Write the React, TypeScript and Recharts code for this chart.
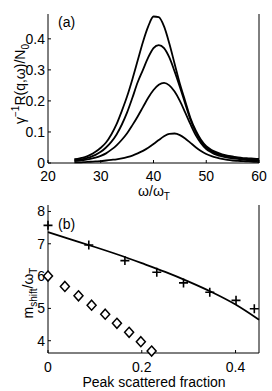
import React from 'react';
import { ComposedChart, LineChart, Line, Scatter, XAxis, YAxis } from 'recharts';

const omega = [25,26,27,28,29,30,31,32,33,34,35,36,37,38,39,40,41,42,43,44,45,46,47,48,49,50,51,52,53,54,55,56,57,58,59,60];
const curve1 = [0.012,0.015,0.019,0.026,0.036,0.049,0.066,0.092,0.125,0.168,0.215,0.27,0.33,0.39,0.44,0.472,0.47,0.44,0.385,0.32,0.255,0.2,0.145,0.105,0.075,0.054,0.042,0.034,0.028,0.024,0.021,0.018,0.016,0.015,0.014,0.013];
const curve2 = [0.009,0.011,0.014,0.019,0.026,0.036,0.05,0.068,0.092,0.124,0.163,0.21,0.26,0.3,0.34,0.37,0.38,0.37,0.34,0.295,0.245,0.192,0.14,0.1,0.07,0.05,0.038,0.03,0.025,0.021,0.018,0.015,0.013,0.012,0.011,0.01];
const curve3 = [0.006,0.008,0.01,0.013,0.017,0.023,0.031,0.043,0.057,0.075,0.096,0.122,0.15,0.18,0.21,0.235,0.252,0.258,0.25,0.23,0.2,0.163,0.125,0.09,0.064,0.045,0.034,0.026,0.021,0.017,0.015,0.013,0.011,0.009,0.008,0.007];
const curve4 = [0.002,0.002,0.003,0.004,0.005,0.006,0.008,0.01,0.012,0.015,0.019,0.024,0.031,0.039,0.049,0.061,0.074,0.086,0.094,0.095,0.09,0.079,0.065,0.051,0.039,0.029,0.022,0.017,0.013,0.01,0.008,0.007,0.006,0.005,0.004,0.003];

const topXTicks = [20, 30, 40, 50, 60];
const topYTicks = [0, 0.1, 0.2, 0.3, 0.4];

const plusX = [0.0, 0.087, 0.164, 0.232, 0.289, 0.345, 0.401, 0.44];
const plusY = [7.57, 6.96, 6.48, 6.12, 5.79, 5.5, 5.25, 4.99];
const diamondX = [0.0, 0.036, 0.065, 0.093, 0.122, 0.147, 0.173, 0.198, 0.221];
const diamondY = [6.0, 5.68, 5.39, 5.1, 4.82, 4.54, 4.26, 3.97, 3.68];
const fitX = [0, 0.05, 0.1, 0.15, 0.2, 0.25, 0.3, 0.35, 0.4, 0.45];
const fitY = [7.36, 7.13, 6.9, 6.66, 6.4, 6.13, 5.83, 5.5, 5.12, 4.65];

const botXTicks = [0, 0.2, 0.4];
const botYTicks = [4, 5, 6, 7, 8];

const topData = omega.map((w, i) => ({ x: w, c1: curve1[i], c2: curve2[i], c3: curve3[i], c4: curve4[i] }));
const plusData = plusX.map((x, i) => ({ x, y: plusY[i] }));
const diamondData = diamondX.map((x, i) => ({ x, y: diamondY[i] }));
const fitData = fitX.map((x, i) => ({ x, y: fitY[i] }));

const FONT = '"Liberation Sans", Arial, sans-serif';
const tickStyle = { fill: '#000', fontSize: 14, fontFamily: FONT };
const noTick = () => <g />;

const PlusShape = (p: any) => {
  const { cx, cy } = p;
  return <path d={`M${cx - 4.5},${cy}h9M${cx},${cy - 4.5}v9`} stroke="#000" strokeWidth={1.6} fill="none" />;
};
const DiamondShape = (p: any) => {
  const { cx, cy } = p;
  return <path d={`M${cx},${cy - 5}L${cx + 4.5},${cy}L${cx},${cy + 5}L${cx - 4.5},${cy}Z`} stroke="#000" strokeWidth={1.5} fill="#fff" />;
};

export default function App() {
  const lineProps = { type: 'monotone' as const, stroke: '#000', strokeWidth: 1.8, dot: false, isAnimationActive: false };
  return (
    <div style={{ position: 'absolute', left: 0, top: 0, width: 272, height: 391, background: '#fff' }}>
      <div style={{ position: 'absolute', left: 0, top: 0 }}>
        <LineChart width={272} height={200} data={topData} margin={{ top: 14, right: 0, bottom: 0, left: 0 }}>
          <XAxis dataKey="x" type="number" domain={[20, 60]} ticks={topXTicks} height={37} stroke="#000" tickSize={-3} tickMargin={11.5} tick={tickStyle} />
          <XAxis xAxisId="t" dataKey="x" type="number" orientation="top" domain={[20, 60]} ticks={topXTicks} height={0} stroke="#000" tickSize={-3} tick={noTick} />
          <YAxis type="number" domain={[0, 0.48]} ticks={topYTicks} width={48} stroke="#000" tickSize={-3} tickMargin={6} tick={tickStyle} />
          <YAxis yAxisId="r" type="number" orientation="right" domain={[0, 0.48]} ticks={topYTicks} width={13} stroke="#000" tickSize={-3} tick={noTick} />
          <Line dataKey="c1" {...lineProps} />
          <Line dataKey="c2" {...lineProps} />
          <Line dataKey="c3" {...lineProps} />
          <Line dataKey="c4" {...lineProps} />
        </LineChart>
      </div>
      <div style={{ position: 'absolute', left: 0, top: 200 }}>
        <ComposedChart width={272} height={191} margin={{ top: 5, right: 0, bottom: 0, left: 0 }}>
          <XAxis dataKey="x" type="number" domain={[0, 0.45]} ticks={botXTicks} height={38} stroke="#000" tickSize={-3} tickMargin={12} tick={tickStyle} />
          <XAxis xAxisId="t" dataKey="x" type="number" orientation="top" domain={[0, 0.45]} ticks={botXTicks} height={0} stroke="#000" tickSize={-3} tick={noTick} />
          <YAxis type="number" domain={[3.62, 8.2]} ticks={botYTicks} width={48} stroke="#000" tickSize={-3} tickMargin={6} tick={tickStyle} />
          <YAxis yAxisId="r" type="number" orientation="right" domain={[3.62, 8.2]} ticks={botYTicks} width={13} stroke="#000" tickSize={-3} tick={noTick} />
          <Line data={fitData} dataKey="y" {...lineProps} />
          <Scatter data={plusData} dataKey="y" shape={PlusShape} isAnimationActive={false} />
          <Scatter data={diamondData} dataKey="y" shape={DiamondShape} isAnimationActive={false} />
        </ComposedChart>
      </div>
      <svg width={272} height={391} style={{ position: 'absolute', left: 0, top: 0, pointerEvents: 'none' }} fontFamily={FONT} fontSize={14} fill="#000">
        <text x={58} y={27}>(a)</text>
        <text x={58} y={229}>(b)</text>
        <text x={154} y={196} textAnchor="middle">ω/ω<tspan fontSize={10} dy={4}>T</tspan></text>
        <text x={154} y={387} textAnchor="middle">Peak scattered fraction</text>
        <text transform="translate(25,84) rotate(-90)" textAnchor="middle">γ<tspan fontSize={10} dy={-6}>−1</tspan><tspan dy={6}>R(q,ω)/N</tspan><tspan fontSize={10} dy={4}>0</tspan></text>
        <text transform="translate(33,293) rotate(-90)" textAnchor="middle">m<tspan fontSize={10} dy={4}>shift</tspan><tspan dy={-4}>/ω</tspan><tspan fontSize={10} dy={4}>T</tspan></text>
      </svg>
    </div>
  );
}
